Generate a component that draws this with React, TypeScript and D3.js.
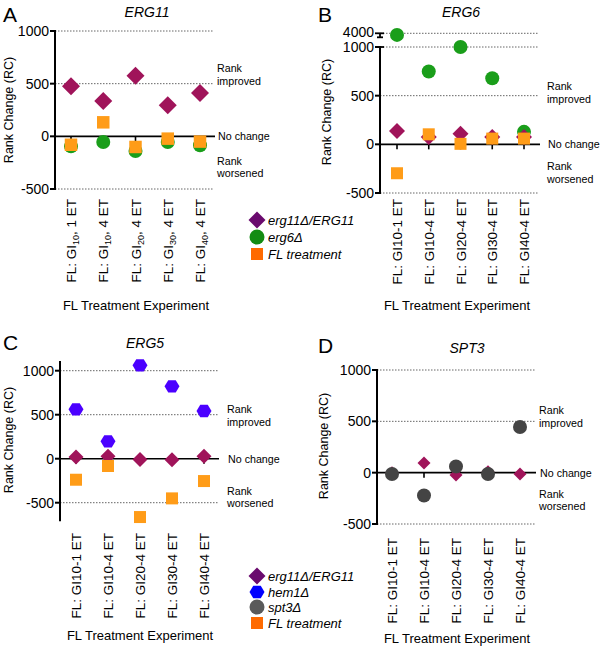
import React from 'react';
import * as d3 from 'd3';

// --- data ---
const giLevelsA = ['10', '10', '20', '30', '40'];
const etCountsA = ['1', '4', '4', '4', '4'];
const labelsBCD = ['FL: GI10-1 ET', 'FL: GI10-4 ET', 'FL: GI20-4 ET', 'FL: GI30-4 ET', 'FL: GI40-4 ET'];

const erg11A = [475, 335, 576, 294, 411];
const erg6A = [-95, -54, -139, -54, -85];
const flA = [-80, 133, -101, -22, -50];

const erg6B = [3850, 748, 1000, 679, 128];
const erg11B = [138, 76, 110, 76, 76];
const flB = [-297, 103, 5, 59, 59];

const hem1C = [561, 197, 1061, 822, 542];
const erg11C = [19, 27, -8, -11, 27];
const flC = [-239, -83, -663, -451, -254];

const erg11D = [0, 95, -22, 10, -13];
const spt3D = [-13, -223, 60, -13, 445];

const yTicks = [1000, 500, 0, -500];
const gridVals = [1000, 500, -500];

const FONT = '"Liberation Sans", Arial, Helvetica, sans-serif';

type Shape = 'diamond' | 'circle' | 'square' | 'hexagon';

const shapePath = (shape: Shape, s: number) => {
  const p = d3.path();
  const h = s / 2;
  if (shape === 'diamond') {
    p.moveTo(0, -h); p.lineTo(h, 0); p.lineTo(0, h); p.lineTo(-h, 0); p.closePath();
  } else if (shape === 'circle') {
    p.arc(0, 0, h, 0, Math.PI * 2);
  } else if (shape === 'square') {
    p.rect(-h, -h, s, s);
  } else {
    for (let i = 0; i < 6; i++) {
      const a = (Math.PI / 3) * i;
      const x = h * Math.cos(a), y = h * Math.sin(a) * 0.95;
      if (i === 0) p.moveTo(x, y); else p.lineTo(x, y);
    }
    p.closePath();
  }
  return p.toString();
};

interface Series { values: number[]; shape: Shape; color: string; size: number; }

interface PanelCfg {
  letter: string; letterX: number; letterY: number;
  title: string; titleX: number; titleY: number;
  axisX: number; catRange: [number, number]; gridEnd: number;
  y1000: number; yM500: number; axisTop: number; axisBottom: number;
  labelTop: number; xTitleX: number; xTitleY: number;
  yTitleX: number; yTitleY: number;
  noteX: number; improved: [number, number]; worsened: [number, number];
  series: Series[];
  subLabels?: boolean;
  broken?: boolean;
}

const Panel: React.FC<{ cfg: PanelCfg }> = ({ cfg }) => {
  const y = d3.scaleLinear().domain([-500, 1000]).range([cfg.yM500, cfg.y1000]);
  const x = d3.scalePoint<number>().domain(d3.range(5)).range(cfg.catRange);
  // upper segment of the broken axis (panel B)
  const yUp = d3.scaleLinear().domain([3600, 4000]).range([cfg.y1000 - 9.5, cfg.y1000 - 13.7]);
  const py = (v: number) => (cfg.broken && v > 2000 ? yUp(v) : y(v));
  const ax = cfg.axisX;

  return (
    <g fontFamily={FONT}>
      <text x={cfg.letterX} y={cfg.letterY} fontSize={21}>{cfg.letter}</text>
      <text x={cfg.titleX} y={cfg.titleY} fontSize={14} fontStyle="italic" textAnchor="middle">{cfg.title}</text>

      {gridVals.map(v => (
        <line key={v} x1={ax} x2={cfg.gridEnd} y1={y(v)} y2={y(v)} stroke="#555" strokeWidth={0.9} strokeDasharray="1.5,1.5" />
      ))}
      {cfg.broken && (
        <line x1={ax} x2={cfg.gridEnd} y1={yUp(4000)} y2={yUp(4000)} stroke="#555" strokeWidth={0.9} strokeDasharray="1.5,1.5" />
      )}

      {/* y axis */}
      <line x1={ax} x2={ax} y1={y(cfg.axisTop) - 1} y2={y(cfg.axisBottom) + 1} stroke="#000" strokeWidth={2} />
      {yTicks.map(v => (
        <g key={v}>
          <line x1={ax - 5} x2={ax} y1={y(v)} y2={y(v)} stroke="#000" strokeWidth={2} />
          <text x={ax - 6} y={y(v) + 5} fontSize={14} textAnchor="end">{v}</text>
        </g>
      ))}
      {cfg.broken && (
        <g stroke="#000" strokeWidth={1.8}>
          <line x1={ax} x2={ax + 4} y1={y(1000)} y2={y(1000)} />
          <line x1={ax} x2={ax} y1={yUp(4000)} y2={yUp(4000) + 4} />
          <line x1={ax - 5} x2={ax + 4} y1={yUp(4000)} y2={yUp(4000)} />
          <line x1={ax - 3} x2={ax + 3} y1={yUp(4000) + 4} y2={yUp(4000) + 4} />
        </g>
      )}
      {cfg.broken && (
        <text x={ax - 6} y={yUp(4000) + 4} fontSize={14} textAnchor="end">4000</text>
      )}

      {/* zero line and x ticks */}
      <line x1={ax} x2={cfg.gridEnd + 1} y1={y(0)} y2={y(0)} stroke="#000" strokeWidth={1.6} />
      {d3.range(5).map(i => (
        <line key={i} x1={x(i)} x2={x(i)} y1={y(0)} y2={y(0) + 5} stroke="#000" strokeWidth={1.6} />
      ))}

      {/* y title */}
      <text transform={`translate(${cfg.yTitleX},${cfg.yTitleY}) rotate(-90)`} fontSize={12.5} textAnchor="middle">Rank Change (RC)</text>

      {/* annotations */}
      <g fontSize={10.7}>
        <text x={cfg.noteX} y={cfg.improved[0]}>Rank</text>
        <text x={cfg.noteX} y={cfg.improved[1]}>improved</text>
        <text x={cfg.noteX + 1} y={y(0) + 4}>No change</text>
        <text x={cfg.noteX} y={cfg.worsened[0]}>Rank</text>
        <text x={cfg.noteX} y={cfg.worsened[1]}>worsened</text>
      </g>

      {/* markers */}
      {cfg.series.map((s, si) => (
        <g key={si}>
          {s.values.map((v, i) => (
            <path key={i} d={shapePath(s.shape, s.size)} transform={`translate(${x(i)},${py(v)})`} fill={s.color} />
          ))}
        </g>
      ))}

      {/* x tick labels */}
      {d3.range(5).map(i => (
        <text key={i} transform={`translate(${(x(i) as number) + 5},${cfg.labelTop}) rotate(-90)`} fontSize={13.5} textAnchor="end">
          {cfg.subLabels ? (
            <>
              <tspan>FL: GI</tspan>
              <tspan fontSize={9} dy={3}>{giLevelsA[i]}</tspan>
              <tspan dy={-3}>{`, ${etCountsA[i]} ET`}</tspan>
            </>
          ) : labelsBCD[i]}
        </text>
      ))}

      <text x={cfg.xTitleX} y={cfg.xTitleY} fontSize={13} textAnchor="middle">FL Treatment Experiment</text>
    </g>
  );
};

const legendA = [
  { label: 'erg11Δ/ERG11', shape: 'diamond' as Shape, color: '#6a0a6e', size: 17 },
  { label: 'erg6Δ', shape: 'circle' as Shape, color: '#138c13', size: 15 },
  { label: 'FL treatment', shape: 'square' as Shape, color: '#ff6a00', size: 12 },
];
const legendC = [
  { label: 'erg11Δ/ERG11', shape: 'diamond' as Shape, color: '#6a0a6e', size: 17 },
  { label: 'hem1Δ', shape: 'hexagon' as Shape, color: '#0000ff', size: 15 },
  { label: 'spt3Δ', shape: 'circle' as Shape, color: '#5a5a5a', size: 15 },
  { label: 'FL treatment', shape: 'square' as Shape, color: '#ff6a00', size: 12 },
];

const Legend: React.FC<{ items: typeof legendA; x: number; ys: number[] }> = ({ items, x, ys }) => (
  <g fontFamily={FONT} fontSize={13} fontStyle="italic">
    {items.map((it, i) => (
      <g key={it.label} transform={`translate(${x},${ys[i]})`}>
        <path d={shapePath(it.shape, it.size)} fill={it.color} />
        <text x={11} y={5}>{it.label}</text>
      </g>
    ))}
  </g>
);

const MAGENTA = '#a0145a';
const GREEN = '#1a9e1a';
const ORANGE = '#ff9c18';
const BLUE = '#4b00ff';
const GREY = '#444444';

const panels: PanelCfg[] = [
  {
    letter: 'A', letterX: 3, letterY: 22, title: 'ERG11', titleX: 147, titleY: 17,
    axisX: 55, catRange: [71, 200], gridEnd: 214, y1000: 31, yM500: 189, axisTop: 1000, axisBottom: -500,
    labelTop: 199, xTitleX: 136, xTitleY: 310, yTitleX: 13, yTitleY: 110,
    noteX: 217, improved: [72, 85], worsened: [165, 177], subLabels: true,
    series: [
      { values: erg11A, shape: 'diamond', color: MAGENTA, size: 18 },
      { values: erg6A, shape: 'circle', color: GREEN, size: 14 },
      { values: flA, shape: 'square', color: ORANGE, size: 12.5 },
    ],
  },
  {
    letter: 'B', letterX: 318, letterY: 22, title: 'ERG6', titleX: 461, titleY: 17,
    axisX: 380, catRange: [397, 524], gridEnd: 539, y1000: 47, yM500: 193, axisTop: 1000, axisBottom: -500,
    labelTop: 199, xTitleX: 457, xTitleY: 310, yTitleX: 331, yTitleY: 112,
    noteX: 547, improved: [90, 103], worsened: [170, 183], broken: true,
    series: [
      { values: erg6B, shape: 'circle', color: GREEN, size: 14 },
      { values: erg11B, shape: 'diamond', color: MAGENTA, size: 16 },
      { values: flB, shape: 'square', color: ORANGE, size: 12 },
    ],
  },
  {
    letter: 'C', letterX: 3, letterY: 350, title: 'ERG5', titleX: 145, titleY: 348,
    axisX: 60, catRange: [76, 204], gridEnd: 218, y1000: 370.7, yM500: 502.7, axisTop: 1100, axisBottom: -700,
    labelTop: 533, xTitleX: 140, xTitleY: 640, yTitleX: 13, yTitleY: 440,
    noteX: 227, improved: [413, 426], worsened: [495, 507],
    series: [
      { values: hem1C, shape: 'hexagon', color: BLUE, size: 15 },
      { values: erg11C, shape: 'diamond', color: MAGENTA, size: 15 },
      { values: flC, shape: 'square', color: ORANGE, size: 12 },
    ],
  },
  {
    letter: 'D', letterX: 318, letterY: 353, title: 'SPT3', titleX: 467, titleY: 353,
    axisX: 377, catRange: [392, 520], gridEnd: 535, y1000: 370, yM500: 524, axisTop: 1000, axisBottom: -500,
    labelTop: 538, xTitleX: 457, xTitleY: 643, yTitleX: 328, yTitleY: 446,
    noteX: 539, improved: [414, 427], worsened: [498, 510],
    series: [
      { values: erg11D, shape: 'diamond', color: MAGENTA, size: 13 },
      { values: spt3D, shape: 'circle', color: GREY, size: 14 },
    ],
  },
];

const App: React.FC = () => (
  <svg width={600} height={647} viewBox="0 0 600 647" style={{ position: 'absolute', left: 0, top: 0, background: '#fff' }}>
    <rect width={600} height={647} fill="#fff" />
    {panels.map(p => <Panel key={p.letter} cfg={p} />)}
    <Legend items={legendA} x={257} ys={[220, 237, 254]} />
    <Legend items={legendC} x={257} ys={[576, 592, 607, 623]} />
  </svg>
);

export default App;
